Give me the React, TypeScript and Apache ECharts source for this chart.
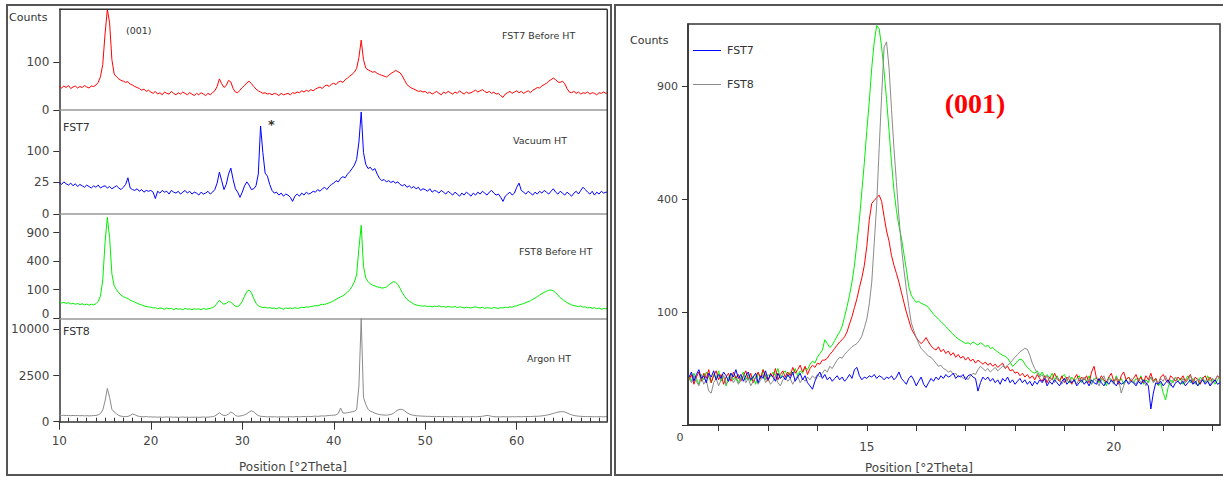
import React, { useEffect, useRef } from "react";
import * as echarts from "echarts";

// ---------- Left figure: full patterns, 2θ = 10 .. 70, step 0.25 ----------
const L_START = 10;
const L_STEP = 0.25;

const fst7BeforeHT = [
  24,21,25,22,26,20,23,25,21,24,22,26,23,21,25,24,27,33,48,90,
  250,440,330,110,56,48,42,38,36,33,35,29,27,24,22,20,17,19,15,17,
  14,12,15,11,13,10,14,12,11,15,12,10,13,11,14,12,10,13,11,9,
  12,10,13,11,9,12,10,13,16,24,42,30,22,26,38,34,20,14,13,17,
  22,26,32,36,30,24,19,16,14,12,13,11,12,10,12,11,9,12,10,11,
  12,10,13,12,14,13,16,14,17,15,18,16,19,21,23,20,25,27,24,29,
  31,28,34,36,33,40,44,50,55,62,75,120,212,110,76,70,66,62,64,58,
  55,52,50,47,52,58,62,68,64,60,50,38,28,24,21,19,17,15,16,14,
  15,12,14,11,13,15,12,10,14,12,15,13,11,14,12,16,13,11,14,12,
  13,15,17,14,16,18,15,13,15,12,14,11,12,9,7,11,13,15,12,14,
  16,13,15,12,14,16,13,17,19,22,21,25,28,31,36,40,44,40,34,33,
  36,30,20,14,13,15,12,14,11,13,12,14,11,13,12,10,13,12,14,12,
  13,
];

const fst7VacuumHT = [
  25,22,26,23,21,24,20,23,19,22,20,18,21,19,17,20,18,21,17,19,
  20,17,19,16,18,20,17,15,18,22,33,17,15,14,16,13,15,12,14,13,
  14,12,6,13,11,14,12,13,10,14,12,11,13,10,12,14,11,13,10,12,
  11,9,12,10,11,13,10,12,15,24,44,28,15,22,40,53,30,16,12,7,
  12,20,26,21,15,16,20,40,195,95,42,36,22,14,11,12,9,11,8,10,
  9,7,4,8,10,8,11,9,12,10,11,13,12,15,13,16,18,15,19,22,
  24,28,26,32,35,33,40,45,52,60,75,130,262,95,62,52,55,48,52,40,
  32,28,30,26,28,25,27,24,26,22,20,22,18,20,17,19,16,18,14,16,
  15,13,16,12,14,13,11,14,12,10,13,11,9,12,10,8,11,9,12,10,
  8,11,9,12,10,13,11,9,12,14,11,9,10,7,4,8,10,12,9,11,
  18,24,14,12,10,13,11,9,12,10,13,11,14,12,10,13,16,12,10,13,
  11,9,12,10,8,11,13,10,14,18,15,12,10,13,9,12,10,13,11,12,
  12,
];

const fst8BeforeHT = [
  33,29,31,27,30,25,28,24,27,23,26,22,25,21,24,22,26,35,60,180,
  700,1250,800,240,130,100,80,66,57,52,48,40,36,32,28,24,22,19,17,16,
  15,13,14,11,13,12,10,13,11,12,9,12,10,11,9,12,10,11,9,11,
  10,11,9,12,10,11,12,14,18,28,40,30,24,28,34,32,24,18,17,22,
  36,60,88,98,80,48,28,19,16,14,15,13,14,12,13,11,14,12,10,13,
  12,13,11,14,12,13,15,14,16,15,17,18,20,19,22,24,23,27,29,33,
  38,44,50,56,62,72,84,100,125,160,230,600,1060,330,200,165,145,135,128,120,
  118,112,114,120,135,150,164,160,140,110,80,58,44,36,30,25,22,20,19,18,
  19,17,18,16,18,17,19,16,17,15,17,16,15,17,14,16,15,13,15,14,
  13,15,16,14,13,15,12,14,13,12,14,13,12,14,13,15,14,16,15,18,
  19,22,24,27,30,34,38,44,50,58,66,75,82,90,96,98,92,80,66,52,
  44,36,30,26,22,20,18,17,19,15,16,13,15,12,14,11,13,10,12,11,
  12,
];

const fst8ArgonHT = [
  48,45,50,44,47,42,46,43,45,41,44,40,43,39,42,44,46,55,80,160,
  500,1300,700,180,110,75,45,36,32,30,33,45,70,60,40,33,30,28,31,27,
  28,25,27,24,26,23,25,27,24,26,23,25,22,24,26,23,25,22,24,23,
  25,22,24,26,23,25,27,30,38,60,95,60,45,48,70,110,85,45,35,38,
  45,55,75,110,140,115,70,45,35,32,30,28,30,27,29,26,28,27,29,26,
  28,30,27,29,31,28,30,32,29,33,31,34,36,33,37,40,38,42,45,48,
  50,55,80,220,90,85,95,105,115,130,170,1500,12500,700,350,180,130,110,85,70,
  60,55,52,50,55,62,80,120,160,180,175,140,95,70,55,48,42,40,38,36,
  35,33,34,31,33,30,32,29,31,30,28,30,29,31,28,30,29,27,30,28,
  29,31,28,30,32,35,40,46,42,34,30,28,29,27,30,28,29,27,30,28,
  29,30,28,31,30,32,31,33,35,34,37,40,44,50,58,68,80,95,108,116,
  118,110,90,70,55,45,40,36,34,32,31,30,31,29,30,28,30,29,28,30,
  29,
];

// ---------- Right figure: (001) region, 2θ = 11.40 .. 22.15, step 0.05 ----------
const R_START = 11.4;
const R_STEP = 0.05;

const zoomFST7Vacuum = [
  18,22,15,20,24,17,19,14,21,18,23,16,20,17,22,19,15,21,18,24,
  17,20,15,19,22,16,18,21,14,19,17,23,16,20,18,15,21,17,19,16,
  20,17,22,15,18,21,16,19,14,12,10,15,19,22,17,20,16,18,15,17,
  19,16,18,15,17,20,17,24,26,19,16,18,17,19,18,20,17,19,18,16,
  18,17,19,16,18,22,17,15,13,17,19,16,12,15,18,13,11,14,17,15,
  18,16,19,17,20,18,19,21,17,19,18,20,16,19,20,18,17,9,14,18,
  16,18,15,17,14,16,13,17,15,18,14,16,13,15,17,14,16,13,15,12,
  15,13,16,14,17,12,15,13,16,14,12,15,17,13,15,14,16,12,14,16,
  13,15,12,16,14,13,17,14,12,15,13,16,14,12,15,13,14,16,13,15,
  14,12,15,13,16,14,12,2,8,14,13,15,12,14,16,13,11,14,15,13,
  15,12,14,16,13,15,12,14,16,13,15,12,14,16,13,14,
];

const zoomFST7Before = [
  16,20,13,18,22,15,21,17,24,14,19,23,16,20,13,18,21,15,22,17,
  20,15,19,23,16,21,14,18,22,17,24,19,15,21,18,25,16,20,23,18,
  22,19,26,21,24,28,22,27,20,25,28,26,30,29,33,33,35,39,42,46,
  50,54,57,61,68,80,92,108,125,148,170,200,250,330,385,395,405,414,392,340,
  295,265,225,200,180,160,138,118,100,86,73,66,60,55,52,55,60,54,49,46,
  44,48,42,45,40,43,38,41,36,39,35,37,33,36,32,34,30,33,31,29,
  31,28,30,27,29,26,28,30,25,27,23,24,21,22,19,21,18,20,17,19,
  16,20,17,15,19,14,18,16,21,17,15,19,14,18,16,13,17,20,15,18,
  16,19,14,22,27,17,15,19,16,14,18,21,15,17,13,19,22,16,18,15,
  17,20,15,18,14,19,16,21,15,17,13,18,20,16,14,19,17,15,18,16,
  19,15,17,20,14,18,16,13,17,19,15,18,14,16,19,17,
];

const zoomFST8Before = [
  19,15,21,17,13,20,16,22,18,14,20,17,23,15,19,12,18,21,16,19,
  14,18,22,16,20,15,19,13,21,17,24,16,20,18,22,19,25,17,21,23,
  18,22,20,25,19,23,21,26,24,29,32,30,36,40,44,57,52,47,50,56,
  62,68,76,92,110,132,160,200,260,330,430,540,680,820,1000,1150,1250,1230,1120,980,
  830,680,540,430,360,310,275,230,190,150,132,124,118,120,116,114,112,108,102,96,
  92,88,84,80,76,72,68,64,61,58,56,54,52,53,51,54,52,50,53,51,
  48,50,46,47,44,42,40,38,37,35,31,27,29,32,34,33,29,26,24,22,
  21,23,19,22,18,20,17,21,16,19,15,18,20,16,14,18,15,17,19,14,
  17,15,19,13,16,18,14,17,15,12,18,16,14,19,15,17,13,16,18,15,
  14,17,15,19,13,16,14,18,15,17,12,14,8,5,11,16,14,18,15,17,
  13,16,19,14,17,15,12,18,16,14,19,15,17,13,16,18,
];

const zoomFST8Argon = [
  17,14,19,15,12,18,13,16,9,8,14,17,12,16,19,13,15,18,14,17,
  13,16,19,14,17,12,15,18,13,16,20,14,17,13,15,19,14,12,16,18,
  15,17,13,16,19,14,17,15,18,16,19,17,20,18,21,24,22,27,25,29,
  33,36,35,39,42,45,48,50,52,56,62,74,88,115,160,260,380,600,850,1120,
  1150,1000,780,600,460,340,250,190,145,110,82,70,60,52,46,43,40,37,36,33,
  30,27,28,25,24,22,23,20,21,18,19,17,18,16,19,21,20,24,27,25,
  23,25,22,24,26,23,25,27,26,28,30,33,36,39,42,44,46,45,38,30,
  25,21,18,20,16,19,15,17,14,18,16,13,17,15,19,14,16,13,17,15,
  18,14,16,13,17,15,12,16,19,14,17,15,13,18,16,8,12,16,14,17,
  15,13,17,14,16,12,15,18,14,16,13,17,15,19,14,12,16,18,15,13,
  17,14,16,19,15,13,17,15,18,14,16,12,17,15,19,16,
];

// ---------- Tick labels ----------
const leftXLabels = [10, 20, 30, 40, 50, 60];
const leftXMinor = [11,12,13,14,15,16,17,18,19,21,22,23,24,25,26,27,28,29,31,32,33,34,35,36,37,38,39,41,42,43,44,45,46,47,48,49,51,52,53,54,55,56,57,58,59,61,62,63,64,65,66,67,68,69];
const panel1Ticks = [0, 100];
const panel2Ticks = [0, 25, 100];
const panel3Ticks = [0, 100, 400, 900];
const panel3Labels = [100, 400, 900]; // its "0" is lifted above the "10000" below it
const panel4Ticks = [0, 2500, 10000];
const rightYLabels = [100, 400, 900];
const rightYTicks = [0, 100, 400, 900];
const rightXLabels = [15, 20];
const rightXTicks = [12, 13, 14, 15, 16, 17, 18, 19, 20, 21, 22];

const FONT = "DejaVu Sans";

const toPts = (arr: number[], start: number, step: number) =>
  arr.map((c, i) => [+(start + i * step).toFixed(3), Math.sqrt(c)]);

// layout (pixels)
const LX = 59.3;
const LW = 548;
const leftGrids = [
  { top: 9.3, height: 100.7, ymax: 20.98 },
  { top: 110, height: 104, ymax: 16.5 },
  { top: 214, height: 104.3, ymax: 36.5 },
  { top: 318.3, height: 103.4, ymax: 112.1 },
];
const RG = { left: 688, top: 24, width: 532, height: 401 };

function leftY(gridIndex: number, max: number, ticks: number[], labels: number[] = ticks) {
  return {
    type: "value",
    gridIndex,
    min: 0,
    max,
    axisLine: { show: true, lineStyle: { color: "#333", width: 1.5 } },
    axisTick: { show: true, customValues: ticks.map(Math.sqrt), length: 6, lineStyle: { color: "#333" } },
    axisLabel: {
      customValues: labels.map(Math.sqrt),
      formatter: (v: number) => String(Math.round(v * v)),
      margin: 10,
      fontSize: 12,
      color: "#444",
      fontFamily: FONT,
    },
    splitLine: { show: false },
  };
}

function leftX(gridIndex: number, last: boolean) {
  return {
    type: "value",
    gridIndex,
    min: 10,
    max: 69.9,
    axisLine: { show: true, onZero: false, lineStyle: { color: last ? "#333" : "#999", width: 1.5 } },
    axisTick: last
      ? { show: true, customValues: leftXLabels, length: 8, lineStyle: { color: "#333" } }
      : { show: false },
    axisLabel: last
      ? { show: true, customValues: leftXLabels, margin: 13, fontSize: 12, color: "#444", fontFamily: FONT }
      : { show: false },
    splitLine: { show: false },
  };
}

function lineSeries(name: string, data: number[][], xi: number, yi: number, color: string) {
  return {
    type: "line",
    name,
    xAxisIndex: xi,
    yAxisIndex: yi,
    data,
    showSymbol: false,
    symbol: "none",
    silent: true,
    lineStyle: { width: 1, color },
    itemStyle: { color },
  };
}

function txt(text: string, x: number, y: number, size: number, extra: any = {}) {
  return {
    type: "text",
    x,
    y,
    z: 50,
    silent: true,
    style: {
      text,
      fill: "#333",
      fontSize: size,
      fontFamily: FONT,
      align: "left",
      verticalAlign: "middle",
      ...extra,
    },
  };
}

export default function App() {
  const ref = useRef<HTMLDivElement>(null);

  useEffect(() => {
    if (!ref.current) return;
    const chart = echarts.init(ref.current, undefined, { renderer: "svg" });

    const grids: any[] = leftGrids.map((g) => ({
      left: LX,
      top: g.top,
      width: LW,
      height: g.height,
      containLabel: false,
    }));
    grids.push({
      left: RG.left,
      top: RG.top,
      width: RG.width,
      height: RG.height,
      show: true,
      borderColor: "#333",
      borderWidth: 1.5,
      containLabel: false,
    });

    const xAxes: any[] = [leftX(0, false), leftX(1, false), leftX(2, false), leftX(3, true)];
    // minor ticks of the full pattern axis
    xAxes.push({
      type: "value",
      gridIndex: 3,
      min: 10,
      max: 69.9,
      axisLine: { show: false },
      axisTick: { show: true, customValues: leftXMinor, length: 4, lineStyle: { color: "#333" } },
      axisLabel: { show: false },
      splitLine: { show: false },
    });
    // right figure
    xAxes.push({
      type: "value",
      gridIndex: 4,
      min: 11.38,
      max: 22.15,
      axisLine: { show: true, onZero: false, lineStyle: { color: "#333", width: 1.5 } },
      axisTick: { show: true, customValues: rightXTicks, length: 6, lineStyle: { color: "#333" } },
      axisLabel: { customValues: rightXLabels, margin: 16, fontSize: 12, color: "#444", fontFamily: FONT },
      splitLine: { show: false },
    });

    const yAxes: any[] = [
      leftY(0, leftGrids[0].ymax, panel1Ticks),
      leftY(1, leftGrids[1].ymax, panel2Ticks),
      leftY(2, leftGrids[2].ymax, panel3Ticks, panel3Labels),
      leftY(3, leftGrids[3].ymax, panel4Ticks),
      {
        type: "value",
        gridIndex: 4,
        min: 0,
        max: 35.5,
        axisLine: { show: true, lineStyle: { color: "#333", width: 1.5 } },
        axisTick: { show: true, customValues: rightYTicks.map(Math.sqrt), length: 6, lineStyle: { color: "#333" } },
        axisLabel: {
          customValues: rightYLabels.map(Math.sqrt),
          formatter: (v: number) => String(Math.round(v * v)),
          margin: 10,
          fontSize: 11,
          color: "#444",
          fontFamily: FONT,
        },
        splitLine: { show: false },
      },
    ];

    const series: any[] = [
      lineSeries("FST7 Before HT", toPts(fst7BeforeHT, L_START, L_STEP), 0, 0, "#ff0000"),
      lineSeries("FST7 Vacuum HT", toPts(fst7VacuumHT, L_START, L_STEP), 1, 1, "#0000ff"),
      lineSeries("FST8 Before HT", toPts(fst8BeforeHT, L_START, L_STEP), 2, 2, "#00ee00"),
      lineSeries("FST8 Argon HT", toPts(fst8ArgonHT, L_START, L_STEP), 3, 3, "#8a8a8a"),
      lineSeries("FST8 Before HT (001)", toPts(zoomFST8Before, R_START, R_STEP), 5, 4, "#00ee00"),
      lineSeries("FST7 Before HT (001)", toPts(zoomFST7Before, R_START, R_STEP), 5, 4, "#ff0000"),
      lineSeries("FST8", toPts(zoomFST8Argon, R_START, R_STEP), 5, 4, "#8a8a8a"),
      lineSeries("FST7", toPts(zoomFST7Vacuum, R_START, R_STEP), 5, 4, "#0000ff"),
    ];

    const graphic: any[] = [
      // outer frames
      { type: "rect", silent: true, z: 40, shape: { x: 7, y: 5, width: 604, height: 470 }, style: { fill: "none", stroke: "#555", lineWidth: 2 } },
      { type: "rect", silent: true, z: 40, shape: { x: 615, y: 5, width: 612, height: 470 }, style: { fill: "none", stroke: "#555", lineWidth: 2 } },
      // left plot top/right border
      { type: "line", silent: true, z: 40, shape: { x1: LX, y1: 9.3, x2: LX + LW, y2: 9.3 }, style: { stroke: "#333", lineWidth: 1.5 } },
      { type: "line", silent: true, z: 40, shape: { x1: LX + LW, y1: 9.3, x2: LX + LW, y2: 421.7 }, style: { stroke: "#333", lineWidth: 1.5 } },
      // left texts
      txt("Counts", 9, 17, 11),
      txt("(001)", 126, 30, 9.5),
      txt("FST7 Before HT", 502, 35, 9.5),
      txt("FST7", 63, 127, 11),
      txt("*", 268, 124, 13, { fontWeight: "bold" }),
      txt("Vacuum HT", 513, 140, 9.5),
      txt("FST8 Before HT", 519, 251, 9.5),
      txt("FST8", 63, 331, 11),
      txt("Argon HT", 527, 358, 9.5),
      txt("0", LX - 10, 314, 12, { align: "right", fill: "#444" }),
      txt("Position [°2Theta]", 293, 467, 12, { align: "center", fill: "#444" }),
      // right texts
      txt("Counts", 630, 40, 11),
      txt("0", 680, 437, 11, { align: "center", fill: "#444" }),
      txt("(001)", 975, 103, 28, { align: "center", fill: "#ff0000", fontFamily: "Liberation Serif", fontWeight: "bold" }),
      txt("Position [°2Theta]", 919, 468, 12, { align: "center", fill: "#444" }),
    ];

    chart.setOption({
      animation: false,
      backgroundColor: "#ffffff",
      textStyle: { fontFamily: FONT },
      grid: grids,
      xAxis: xAxes,
      yAxis: yAxes,
      legend: {
        data: ["FST7", "FST8"],
        orient: "vertical",
        left: 688,
        top: 40,
        icon: "rect",
        itemWidth: 28,
        itemHeight: 1,
        itemGap: 23,
        selectedMode: false,
        textStyle: { fontSize: 11, color: "#333", fontFamily: FONT, padding: [0, 0, 0, 1] },
      },
      series,
      graphic,
    });

    return () => chart.dispose();
  }, []);

  return (
    <div
      ref={ref}
      style={{ position: "fixed", left: 0, top: 0, width: 1223, height: 477, background: "#fff" }}
    />
  );
}
